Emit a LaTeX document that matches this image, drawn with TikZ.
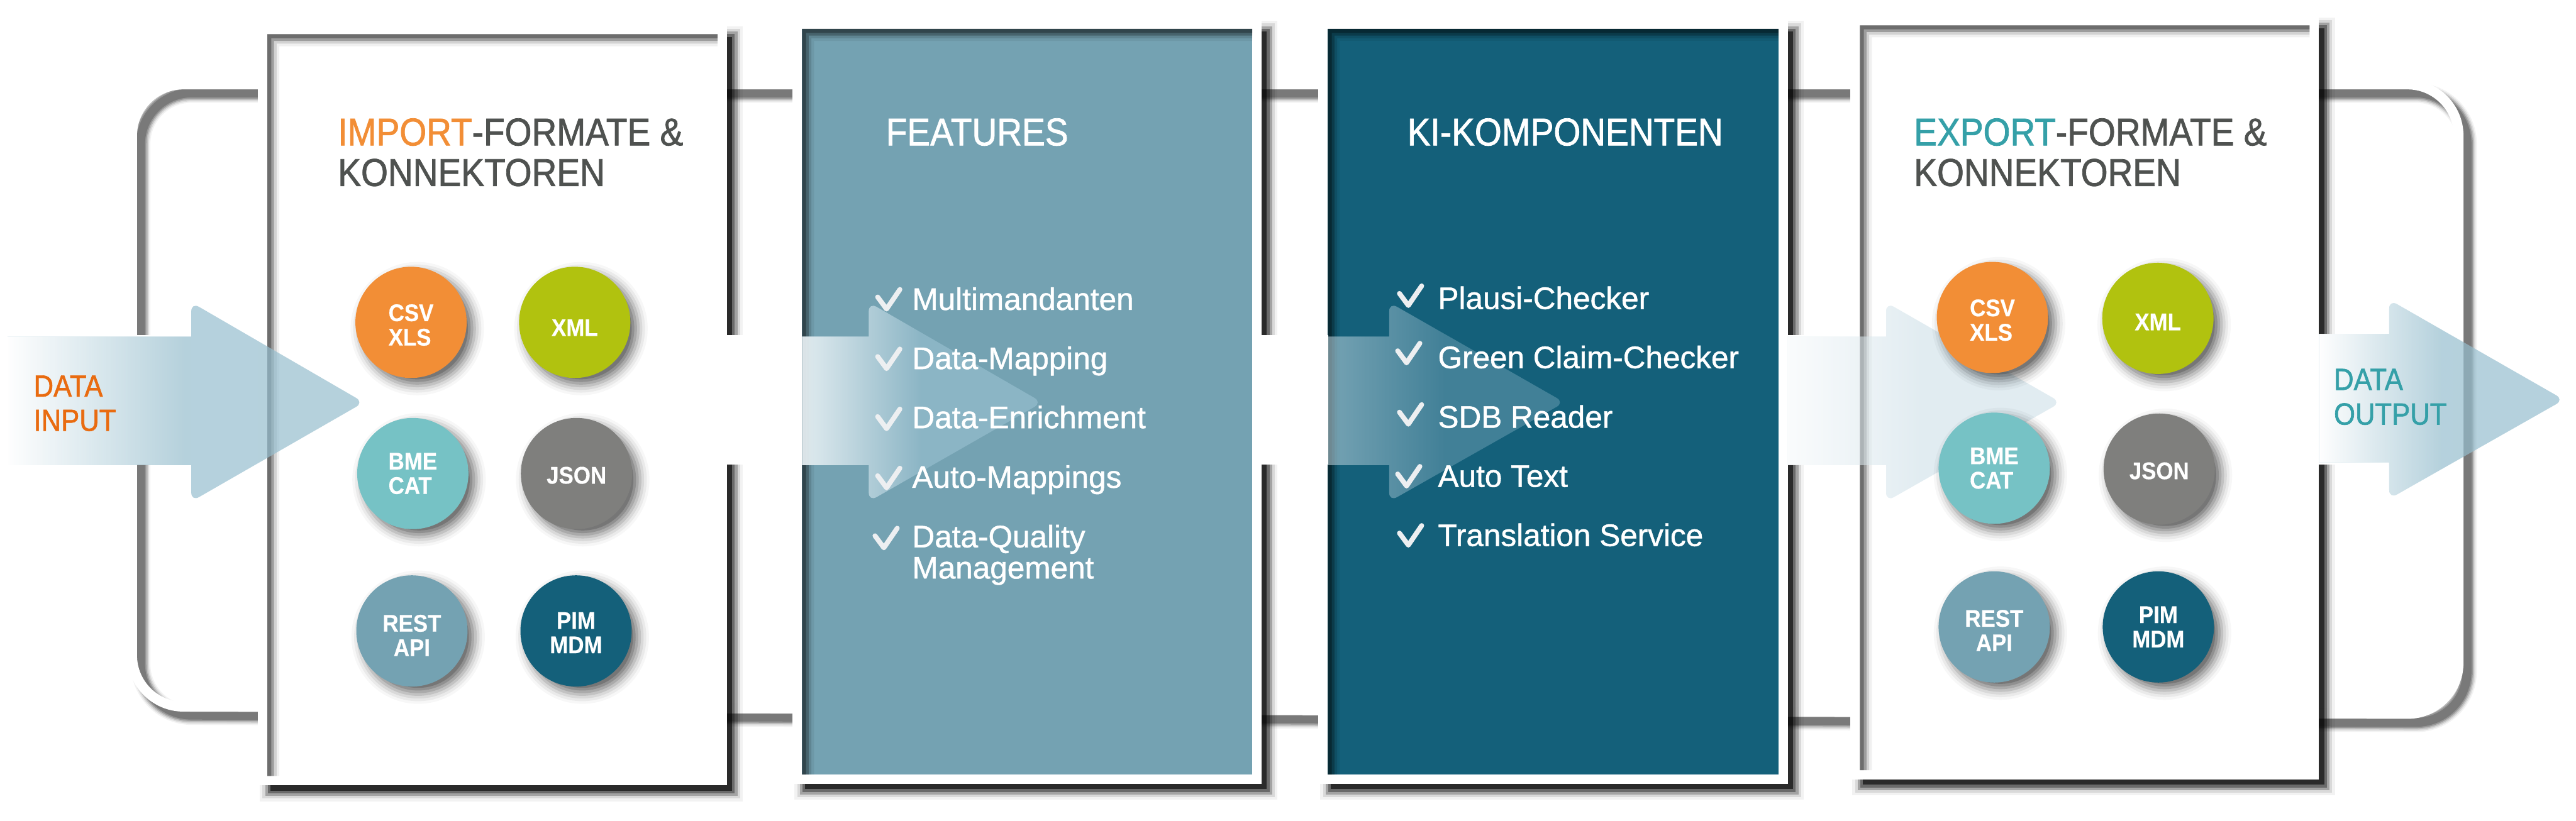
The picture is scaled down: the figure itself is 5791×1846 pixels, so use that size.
\documentclass[tikz,border=0pt]{standalone}
\usepackage{fontspec}
\setmainfont{Liberation Sans}
\newfontfamily\capsfont[FakeStretch=0.895,FakeBold=1.3]{Liberation Sans}
\newfontfamily\listfont[FakeStretch=1.0,FakeBold=1.0]{Liberation Sans}
\newfontfamily\dotfont[FakeStretch=0.91,FakeBold=0.4]{Liberation Sans Bold}
\usetikzlibrary{fadings}

\definecolor{importorange}{HTML}{F28E36}
\definecolor{inputorange}{HTML}{E96B10}
\definecolor{exportteal}{HTML}{35A0A8}
\definecolor{titlegray}{HTML}{4F5250}
\definecolor{limegreen}{HTML}{B1C20F}
\definecolor{lightteal}{HTML}{76C2C5}
\definecolor{midgray}{HTML}{7F7F7D}
\definecolor{featureblue}{HTML}{74A2B2}
\definecolor{kiblue}{HTML}{14607A}
\definecolor{arrowblue}{HTML}{96BECE}
\definecolor{checkwhite}{HTML}{EDEFF1}

\tikzfading[name=arrowfade, left color=transparent!0, right color=transparent!100, middle color=transparent!100]

\tikzset{
  titletext/.style={anchor=base west, inner sep=0pt, font=\capsfont\fontsize{24.75}{30}\selectfont},
  sidetext/.style={anchor=base west, inner sep=0pt, font=\capsfont\fontsize{19.6}{24}\selectfont},
  itemtext/.style={anchor=base west, inner sep=0pt, text=white, font=\listfont\fontsize{19.9}{24}\selectfont},
  formatdot/.style={circle, minimum size=2.5cm, inner sep=0pt},
  dottext/.style={inner sep=0pt, text=white, font=\dotfont\fontsize{15.4}{15.6}\selectfont},
  checkmark/.style={draw=checkwhite, line width=.11cm, line cap=round, line join=round}
}

\begin{document}
\begin{tikzpicture}[x=0.01cm,y=-0.01cm]
\useasboundingbox (0,0) rectangle (5791,1846);

% white loop behind the panels
\coordinate (loopstart) at (2900,190);
\coordinate (looptl) at (297,190);
\coordinate (loopbl) at (297,1589);
\coordinate (loopbr) at (5527,1606);
\coordinate (looptr) at (5527,190);
\foreach \w/\a in {.44/.05,.38/.09,.32/.14,.26/.2,.2/.2} {
\draw[black,opacity=\a,line width=\w cm,rounded corners=1.15cm] ([shift={(19,19)}]loopstart) -- ([shift={(19,19)}]looptl) -- ([shift={(19,19)}]loopbl) -- ([shift={(19,19)}]loopbr) -- ([shift={(19,19)}]looptr) -- cycle;
}
\draw[white,line width=.22cm,rounded corners=1.15cm] (loopstart) -- (looptl) -- (loopbl) -- (loopbr) -- (looptr) -- cycle;

% panels
\foreach \xa/\ya/\xb/\yb/\col in {580/55/1634/1766/white,1782/43/2836/1763/featureblue,2964/43/4019/1763/kiblue,4160/35/5213/1753/white} {
\foreach \d/\a in {36/.05,30/.1,24/.25,18/.35,12/.6} {
\fill[black,opacity=\a] (\xa+40-\d,\ya+40-\d) rectangle (\xb+\d,\yb+\d);
}
\fill[white] (\xa,\ya) rectangle (\xb,\yb);
\fill[\col] (\xa+21,\ya+22) rectangle (\xb-21,\yb-21);
\foreach \d/\a in {27/.06,21/.12,15/.25,9/.3} {
\fill[black,opacity=\a] (\xa+21,\ya+22) -- (\xb-21,\ya+22) -- (\xb-21,\ya+22+\d) -- (\xa+21+\d,\ya+22+\d) -- (\xa+21+\d,\yb-21) -- (\xa+21,\yb-21) -- cycle;
}
}

% white bands between the panels
\foreach \xa/\xb in {286/430,1634/1803,2836/2986,4019/4180,5213/5371} {
\fill[white] (\xa,754) rectangle (\xb,1045);
}

% arrows
\foreach \xa/\xb/\xc/\up/\a/\w in {17/430/818/0/.7/1,1803/1953/2343/0/.7/.75,2986/3123/3517/0/.35/.28,4019/4240/4633/0/.28/.85,5213/5371/5764/6/.7/1} {
\fill[arrowblue,opacity=\a] (\xa,757-\up) -- (\xb,757-\up) [rounded corners=.2cm] -- (\xb,680-\up) -- (\xc,905-\up) -- (\xb,1128-\up) [sharp corners] -- (\xb,1046-\up) -- (\xa,1046-\up) -- cycle;
\fill[white,opacity=\w,path fading=arrowfade] (\xa,757-\up) -- (\xb,757-\up) [rounded corners=.2cm] -- (\xb,680-\up) -- (\xc,905-\up) -- (\xb,1128-\up) [sharp corners] -- (\xb,1046-\up) -- (\xa,1046-\up) -- cycle;
}

% format circles, import side and export side
\foreach \cx/\cy in {924/725,1292/725,928/1065,1296/1065,926/1419,1295/1419,4479/714,4851/716,4483/1053,4854/1055,4483/1410,4852/1410} {
\foreach \r/\a in {150/.03,144/.05,138/.07,132/.1,126/.12,120/.15,114/.18} {
\fill[black,opacity=\a] (\cx+14,\cy+14) circle[radius=\r];
}
}
\node[formatdot,fill=importorange,label={[dottext,align=left,yshift=-.06cm]center:{CSV\\XLS}}] (csvin) at (924,725) {};
\node[formatdot,fill=limegreen,label={[dottext,yshift=-.12cm]center:XML}] (xmlin) at (1292,725) {};
\node[formatdot,fill=lightteal,label={[dottext,align=left]center:{BME\\CAT}}] (bmein) at (928,1065) {};
\node[formatdot,fill=midgray,label={[dottext,yshift=-.04cm]center:JSON}] (jsonin) at (1296,1065) {};
\node[formatdot,fill=featureblue,label={[dottext,align=center,yshift=-.1cm]center:{REST\\API}}] (restin) at (926,1419) {};
\node[formatdot,fill=kiblue,label={[dottext,align=center,yshift=-.04cm]center:{PIM\\MDM}}] (pimin) at (1295,1419) {};

\node[formatdot,fill=importorange,label={[dottext,align=left,yshift=-.06cm]center:{CSV\\XLS}}] (csvout) at (4479,714) {};
\node[formatdot,fill=limegreen,label={[dottext,yshift=-.08cm]center:XML}] (xmlout) at (4851,716) {};
\node[formatdot,fill=lightteal,label={[dottext,align=left]center:{BME\\CAT}}] (bmeout) at (4483,1053) {};
\node[formatdot,fill=midgray,label={[dottext,yshift=-.04cm]center:JSON}] (jsonout) at (4854,1055) {};
\node[formatdot,fill=featureblue,label={[dottext,align=center,yshift=-.08cm]center:{REST\\API}}] (restout) at (4483,1410) {};
\node[formatdot,fill=kiblue,label={[dottext,align=center]center:{PIM\\MDM}}] (pimout) at (4852,1410) {};

% titles
\node[titletext,text=titlegray] (importtitle) at (759,327) {\textcolor{importorange}{IMPORT}-FORMATE \&};
\node[titletext,text=titlegray] (importsub) at (759,418) {KONNEKTOREN};
\node[titletext,text=white] (featuretitle) at (1991,327) {FEATURES};
\node[titletext,text=white] (kititle) at (3163,327) {KI-KOMPONENTEN};
\node[titletext,text=titlegray] (exporttitle) at (4302,327) {\textcolor{exportteal}{EXPORT}-FORMATE \&};
\node[titletext,text=titlegray] (exportsub) at (4302,418) {KONNEKTOREN};

\node[sidetext,text=inputorange] (datain) at (75,892) {DATA};
\node[sidetext,text=inputorange] (inputlabel) at (75,969) {INPUT};
\node[sidetext,text=exportteal] (dataout) at (5246,877) {DATA};
\node[sidetext,text=exportteal] (outputlabel) at (5246,955) {OUTPUT};

% check lists
\foreach \x/\y in {1966/644,1966/778,1966/913,1966/1046,1960/1181,3139/636,3135/765,3139/903,3135/1042,3139/1175} {
\draw[checkmark] (\x+7,\y+24) -- (\x+27,\y+51) -- (\x+57,\y+7);
}

\node[itemtext] (feature1) at (2050,697) {Multimandanten};
\node[itemtext] (feature2) at (2050,830) {Data-Mapping};
\node[itemtext] (feature3) at (2050,963) {Data-Enrichment};
\node[itemtext] (feature4) at (2050,1097) {Auto-Mappings};
\node[itemtext] (feature5) at (2050,1231) {Data-Quality};
\node[itemtext] (feature5b) at (2050,1301) {Management};

\node[itemtext] (ki1) at (3232,695) {Plausi-Checker};
\node[itemtext] (ki2) at (3232,828) {Green Claim-Checker};
\node[itemtext] (ki3) at (3232,962) {SDB Reader};
\node[itemtext] (ki4) at (3232,1095) {Auto Text};
\node[itemtext] (ki5) at (3232,1228) {Translation Service};

\end{tikzpicture}
\end{document}
